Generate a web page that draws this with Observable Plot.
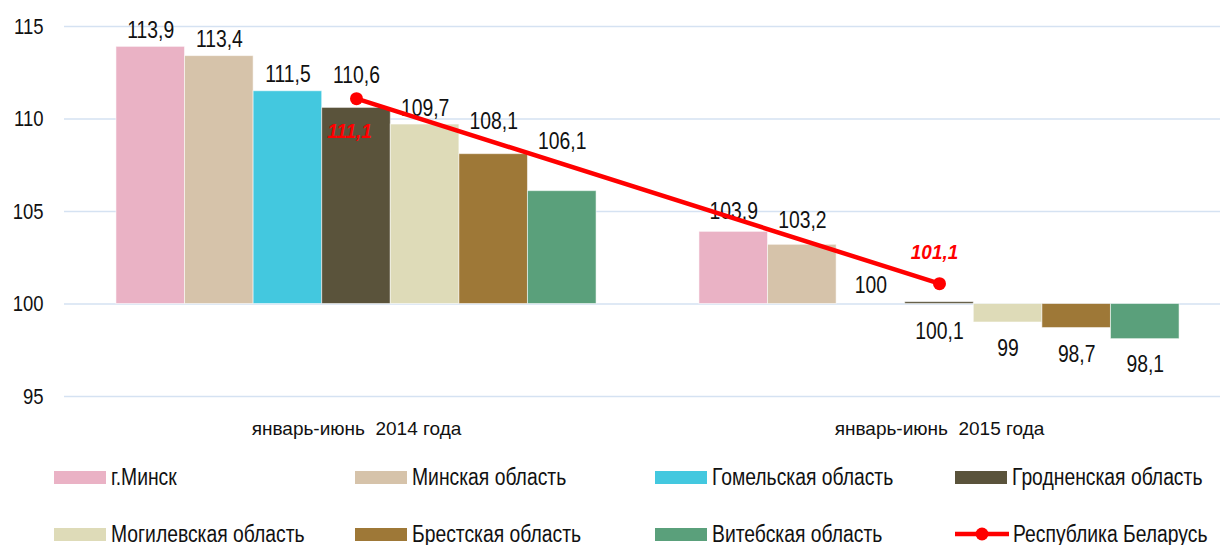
<!DOCTYPE html>
<html>
<head>
<meta charset="utf-8">
<script src="https://cdn.jsdelivr.net/npm/d3@7"></script>
<script src="https://cdn.jsdelivr.net/npm/@observablehq/plot@0.6"></script>
<style>
  html, body { margin: 0; padding: 0; background: #fff; overflow: hidden; }
  body { width: 1220px; height: 545px; font-family: "Liberation Sans", Arial, sans-serif; }
  #chart svg { display: block; }
  #chart text { white-space: pre; }
  #legend { position: relative; width: 1220px; height: 100px; overflow: hidden; }
  .item { position: absolute; display: flex; align-items: center; height: 30px; font-size: 23px; color: #111; white-space: nowrap; }
  .item .tx { display: inline-block; transform: scaleX(0.84); transform-origin: left center; }
  .sw { width: 52px; height: 13px; margin-right: 5px; flex: none; }
  .ln { width: 54px; height: 16px; margin-right: 4px; flex: none; }
</style>
</head>
<body>
<div id="chart"></div>
<div id="legend"></div>
<script>
// ---- data ----
const periods = ["январь-июнь  2014 года", "январь-июнь  2015 года"];
const regions = ["г.Минск", "Минская область", "Гомельская область", "Гродненская область", "Могилевская область", "Брестская область", "Витебская область"];
const values2014 = [113.9, 113.4, 111.5, 110.6, 109.7, 108.1, 106.1];
const values2015 = [103.9, 103.2, 100, 100.1, 99, 98.7, 98.1];
const republicName = "Республика Беларусь";
const republic = [111.1, 101.1];
const yTicks = [95, 100, 105, 110, 115];

// ---- styling ----
const colors = ["#eab2c5", "#d6c3aa", "#43c8df", "#5a533b", "#dedbb8", "#9e7837", "#5aa07b"];
const labelNudge2014 = [-16, -16, -17, -32, -16, -33, -50];
const labelNudge2015 = [-20, -24, -18, 29, 26, 27, 25];
const republicNudge = [[-7, 33], [-5, -31]];
const baseline = 100;
const groupOffset = 0.75, groupStep = 8.5;

const fmt = v => String(v).replace(".", ",");

const bars = [];
[values2014, values2015].forEach((vals, g) => {
  vals.forEach((v, i) => {
    const x1 = groupOffset + g * groupStep + i;
    bars.push({
      period: periods[g], region: regions[i], value: v, color: colors[i],
      x1, x2: x1 + 1, xc: x1 + 0.5,
      dy: (g === 0 ? labelNudge2014 : labelNudge2015)[i]
    });
  });
});
const centers = periods.map((p, g) => ({
  period: p, x: groupOffset + g * groupStep + regions.length / 2,
  value: republic[g], dx: republicNudge[g][0], dy: republicNudge[g][1]
}));

const font = '"Liberation Sans", Arial, sans-serif';

const chart = Plot.plot({
  width: 1220,
  height: 445,
  marginTop: 26,
  marginBottom: 49,
  marginLeft: 64,
  marginRight: 0,
  style: { fontFamily: font, background: "#fff", overflow: "visible" },
  x: { type: "linear", domain: [0, 17], range: [64.5, 1230.5], axis: null },
  y: { domain: [95, 115], axis: null },
  marks: [
    Plot.ruleY(yTicks, { stroke: "#d5e2f2", strokeWidth: 1.6 }),
    Plot.axisY({ ticks: yTicks, tickSize: 0, tickPadding: 21, tickFormat: d => String(d), fontSize: 22, fill: "#111", label: null }),
    Plot.rectY(bars, { x1: "x1", x2: "x2", y1: baseline, y2: "value", fill: "color", stroke: "#ffffff", strokeOpacity: 0.55, strokeWidth: 1 }),
    ...bars.map(b => Plot.text([b], { x: "xc", y: "value", dy: b.dy, text: d => fmt(d.value), fontSize: 23, fill: "#111", lineAnchor: "middle" })),
    Plot.text(centers, { x: "x", y: 95, dy: 32, text: "period", fontSize: 19, fill: "#111", lineAnchor: "middle" }),
    Plot.line(centers, { x: "x", y: "value", stroke: "#ff0000", strokeWidth: 4.5 }),
    Plot.dot(centers, { x: "x", y: "value", r: 6.5, fill: "#ff0000" }),
    ...centers.map(c => Plot.text([c], { x: "x", y: "value", dx: c.dx, dy: c.dy, text: d => fmt(d.value), fontSize: 21, fontWeight: "bold", fontStyle: "italic", fill: "#ff0000", lineAnchor: "middle" }))
  ]
});
document.getElementById("chart").appendChild(chart);

// narrow the type to match the condensed face of the original
chart.querySelectorAll("text").forEach(t => {
  const s = t.textContent;
  if (periods.includes(s)) return;
  const red = getComputedStyle(t).fill === "rgb(255, 0, 0)";
  const k = red ? 0.9 : 0.84;
  const L = t.getComputedTextLength();
  if (L > 0) {
    t.setAttribute("textLength", (L * k).toFixed(1));
    t.setAttribute("lengthAdjust", "spacingAndGlyphs");
  }
});

// ---- legend ----
const legend = document.getElementById("legend");
const colLeft = [54, 355, 655, 955];
const rowTop = [17, 74];
const all = regions.map((r, i) => ({ name: r, color: colors[i], type: "bar" }))
  .concat([{ name: republicName, color: "#ff0000", type: "line" }]);
all.forEach((e, k) => {
  const div = document.createElement("div");
  div.className = "item";
  div.style.left = colLeft[k % 4] + "px";
  div.style.top = rowTop[Math.floor(k / 4)] + "px";
  if (e.type === "bar") {
    const sw = document.createElement("span");
    sw.className = "sw";
    sw.style.background = e.color;
    div.appendChild(sw);
  } else {
    const ns = "http://www.w3.org/2000/svg";
    const s = document.createElementNS(ns, "svg");
    s.setAttribute("class", "ln");
    s.setAttribute("width", 54); s.setAttribute("height", 16);
    const l = document.createElementNS(ns, "line");
    l.setAttribute("x1", 0); l.setAttribute("x2", 54); l.setAttribute("y1", 8); l.setAttribute("y2", 8);
    l.setAttribute("stroke", e.color); l.setAttribute("stroke-width", 4.5);
    const c = document.createElementNS(ns, "circle");
    c.setAttribute("cx", 27); c.setAttribute("cy", 8); c.setAttribute("r", 6.5); c.setAttribute("fill", e.color);
    s.appendChild(l); s.appendChild(c);
    div.appendChild(s);
  }
  const t = document.createElement("span");
  t.className = "tx";
  t.textContent = e.name;
  div.appendChild(t);
  legend.appendChild(div);
});
</script>
</body>
</html>
